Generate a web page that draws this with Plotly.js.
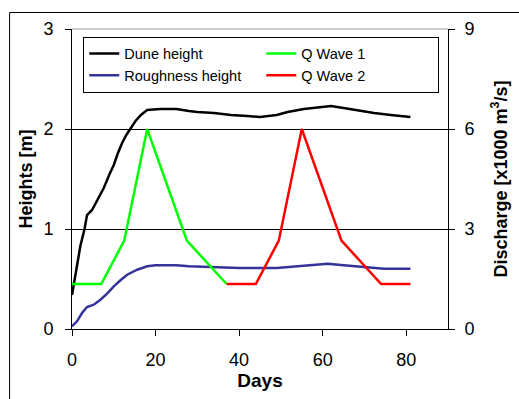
<!DOCTYPE html>
<html>
<head>
<meta charset="utf-8">
<script src="https://cdn.plot.ly/plotly-3.0.1.min.js"></script>
<style>html,body{margin:0;padding:0;background:#fff;}#chart{width:519px;height:399px;}</style>
</head>
<body>
<div id="chart"></div>
<script>
// Dune height [m]
var duneDays = [0, 1, 2, 3, 3.6, 4.8, 6, 7.6, 9, 10, 11, 12, 13, 13.6, 15.2, 16.5, 18, 21, 25, 28, 30, 34, 38, 42, 45, 49, 51.6, 55.5, 59.5, 62, 65, 69, 72.3, 76.3, 81];
var duneHeight = [0.34, 0.6, 0.83, 1.0, 1.14, 1.19, 1.29, 1.41, 1.55, 1.64, 1.76, 1.86, 1.94, 1.98, 2.08, 2.14, 2.19, 2.2, 2.2, 2.18, 2.17, 2.16, 2.14, 2.13, 2.12, 2.14, 2.17, 2.2, 2.22, 2.23, 2.21, 2.18, 2.16, 2.14, 2.12];
// Roughness height [m]
var roughDays = [0, 1.2, 2.4, 3.6, 5.2, 6.8, 8.4, 10, 11.6, 13.2, 15.6, 18, 20, 25, 28, 37, 40, 49, 54, 59.5, 61.2, 65, 69, 74.7, 81];
var roughHeight = [0.027, 0.077, 0.16, 0.22, 0.243, 0.293, 0.353, 0.427, 0.487, 0.543, 0.593, 0.627, 0.637, 0.637, 0.627, 0.615, 0.61, 0.61, 0.627, 0.643, 0.653, 0.637, 0.62, 0.603, 0.603];
// Discharge waves [x1000 m3/s]
var wave1Days = [0, 7, 12.5, 18, 27.5, 37];
var wave1Q = [1.35, 1.35, 2.65, 6, 2.65, 1.35];
var wave2Days = [37, 44, 49.5, 55, 64.5, 74, 81];
var wave2Q = [1.35, 1.35, 2.65, 6, 2.65, 1.35, 1.35];

var xTicks = [0, 20, 40, 60, 80];
var yTicks = [0, 1, 2, 3];
var y2Ticks = [0, 3, 6, 9];

var FONT = 'Liberation Sans, Arial, sans-serif';
var LW = 2.5;

var traces = [
  {x: duneDays, y: duneHeight, name: 'Dune height', type: 'scatter', mode: 'lines',
   line: {color: '#000000', width: LW}, legendrank: 1},
  {x: roughDays, y: roughHeight, name: 'Roughness height', type: 'scatter', mode: 'lines',
   line: {color: '#333399', width: LW}, legendrank: 3},
  {x: wave1Days, y: wave1Q, name: 'Q Wave 1', type: 'scatter', mode: 'lines', yaxis: 'y2',
   line: {color: '#00FF00', width: LW}, legendrank: 2},
  {x: wave2Days, y: wave2Q, name: 'Q Wave 2', type: 'scatter', mode: 'lines', yaxis: 'y2',
   line: {color: '#FF0000', width: LW}, legendrank: 4}
];

var layout = {
  width: 519, height: 399,
  margin: {l: 72, r: 71, t: 29, b: 70},
  paper_bgcolor: '#ffffff', plot_bgcolor: '#ffffff',
  font: {family: FONT, color: '#000000', size: 18},
  showlegend: true,
  legend: {
    orientation: 'h', x: 0.03, y: 0.975, xanchor: 'left', yanchor: 'top',
    bgcolor: '#ffffff', bordercolor: '#000000', borderwidth: 1,
    font: {family: FONT, size: 14.5, color: '#000000'},
    entrywidth: 132, entrywidthmode: 'pixels', traceorder: 'normal',
    tracegroupgap: 0
  },
  xaxis: {
    range: [0, 90], tickvals: xTicks, ticktext: xTicks.map(String),
    showgrid: false, zeroline: false, showline: true, linecolor: '#000000', linewidth: 1,
    ticks: 'outside', ticklen: 6, tickcolor: '#000000', ticklabelstandoff: 8,
    tickfont: {family: FONT, size: 18},
    title: {text: 'Days', font: {family: FONT, size: 19, weight: 'bold'}, standoff: 2}
  },
  yaxis: {
    range: [0, 3], tickvals: yTicks, ticktext: yTicks.map(String),
    showgrid: true, gridcolor: '#000000', gridwidth: 1,
    zeroline: false, showline: true, linecolor: '#000000', linewidth: 1,
    ticks: 'outside', ticklen: 6, tickcolor: '#000000', ticklabelstandoff: 8,
    tickfont: {family: FONT, size: 18},
    title: {text: 'Heights [m]', font: {family: FONT, size: 18, weight: 'bold'}, standoff: 6}
  },
  yaxis2: {
    overlaying: 'y', side: 'right', anchor: 'x',
    range: [0, 9], tickvals: y2Ticks, ticktext: y2Ticks.map(String),
    showgrid: false, zeroline: false, showline: true, linecolor: '#000000', linewidth: 1,
    ticks: 'outside', ticklen: 6, tickcolor: '#000000', ticklabelstandoff: 6,
    tickfont: {family: FONT, size: 18},
    title: {text: 'Discharge [x1000 m<sup>3</sup>/s]', font: {family: FONT, size: 18, weight: 'bold'}, standoff: 20}
  },
  shapes: [
    {type: 'line', xref: 'paper', yref: 'paper', x0: 0, x1: 1, y0: 1, y1: 1,
     line: {color: '#a0a0a0', width: 1}, layer: 'above'},
    {type: 'rect', xref: 'paper', yref: 'paper', x0: -0.166, x1: 1.6, y0: -0.4, y1: 1.055,
     line: {color: '#000000', width: 1}, layer: 'below', fillcolor: 'rgba(0,0,0,0)'}
  ]
};

Plotly.newPlot('chart', traces, layout, {displayModeBar: false, staticPlot: true});
</script>
</body>
</html>
